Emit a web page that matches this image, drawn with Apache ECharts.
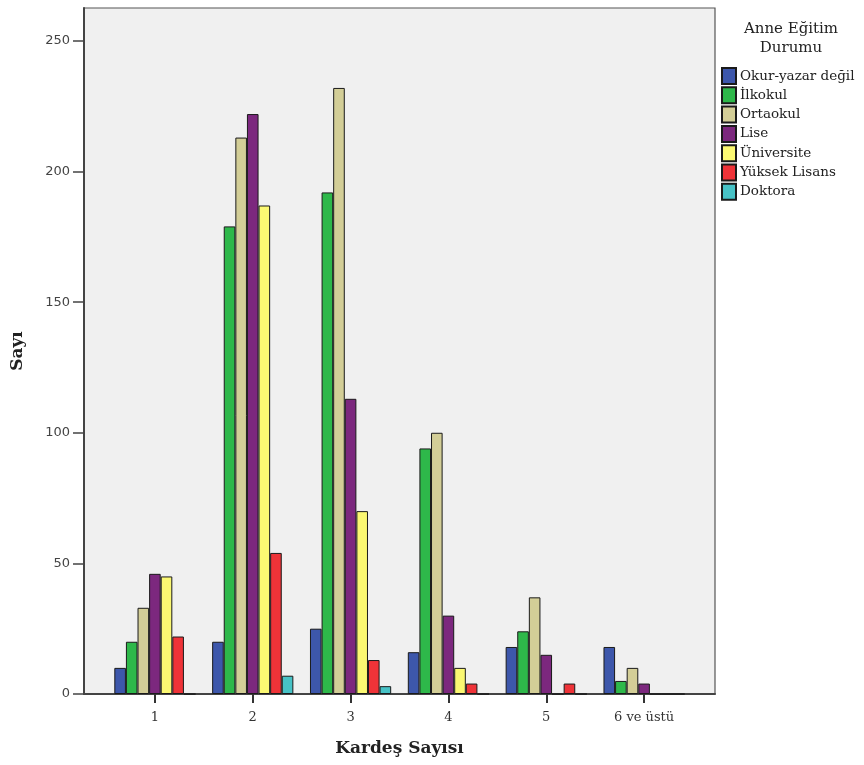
<!DOCTYPE html>
<html><head><meta charset="utf-8">
<script src="https://cdn.jsdelivr.net/npm/echarts@6/dist/echarts.min.js"></script>
<style>html,body{margin:0;padding:0;background:#fff}#c{width:864px;height:765px}</style>
</head><body><div id="c"></div>
<script>
const categories = ['1', '2', '3', '4', '5', '6 ve üstü'];
const okurYazarDegil = [10, 20, 25, 16, 18, 18];
const ilkokul = [20, 179, 192, 94, 24, 5];
const ortaokul = [33, 213, 232, 100, 37, 10];
const lise = [46, 222, 113, 30, 15, 4];
const universite = [45, 187, 70, 10, 0, 0];
const yuksekLisans = [22, 54, 13, 4, 4, 0];
const doktora = [0, 7, 3, 0, 0, 0];
const yTicks = [0, 50, 100, 150, 200, 250];
const seriesNames = ['Okur-yazar değil', 'İlkokul', 'Ortaokul', 'Lise', 'Üniversite', 'Yüksek Lisans', 'Doktora'];
const seriesData = [okurYazarDegil, ilkokul, ortaokul, lise, universite, yuksekLisans, doktora];
const colors = ['#3d57ab', '#2eb84a', '#d3ce97', '#7c287e', '#fbf872', '#ef3338', '#47c2c6'];

const Y_MAX = 262.6;
const serif = '"DejaVu Serif", "Liberation Serif", serif';
const chart = echarts.init(document.getElementById('c'));
chart.setOption({
  animation: false,
  backgroundColor: '#ffffff',
  title: {
    text: 'Anne Eğitim\nDurumu',
    left: 786, top: 15, textAlign: 'center',
    textStyle: { fontFamily: serif, fontSize: 15, fontWeight: 'normal', color: '#222', lineHeight: 19 }
  },
  legend: {
    orient: 'vertical', left: 721, top: 67, padding: 0,
    itemWidth: 14, itemHeight: 16, itemGap: 1.3,
    icon: 'rect',
    textStyle: { fontFamily: serif, fontSize: 13.5, lineHeight: 16, color: '#222', padding: [0, 0, 0, -1] },
    data: seriesNames
  },
  grid: [
    { left: 84, right: 149, top: 8, bottom: 71, show: true, backgroundColor: '#f0f0f0', borderColor: '#555', borderWidth: 1.2, outerBoundsMode: 'none', containLabel: false },
    { left: 106, right: 171, top: 8, bottom: 71, outerBoundsMode: 'none', containLabel: false }
  ],
  xAxis: [
    { type: 'category', gridIndex: 1, data: categories, boundaryGap: true,
      axisLine: { show: false }, axisTick: { show: false }, axisLabel: { show: false } },
    { type: 'category', gridIndex: 0, data: categories, show: true,
      position: 'bottom',
      name: 'Kardeş Sayısı', nameLocation: 'middle', nameGap: 46,
      nameTextStyle: { fontFamily: serif, fontSize: 17, fontWeight: 'bold', color: '#222' },
      axisLine: { show: true, lineStyle: { color: '#444', width: 2 } },
      axisTick: { show: false }, axisLabel: { show: false } },
    { type: 'category', gridIndex: 1, data: categories, position: 'bottom',
      axisLine: { show: false },
      axisTick: { show: true, alignWithLabel: true, length: 9, lineStyle: { color: '#333', width: 2 } },
      axisLabel: { show: true, margin: 17, fontFamily: serif, fontSize: 13, color: '#333' } }
  ],
  yAxis: [
    { type: 'value', gridIndex: 1, min: 0, max: Y_MAX, show: false },
    { type: 'value', gridIndex: 0, min: 0, max: Y_MAX,
      name: 'Sayı', nameLocation: 'middle', nameGap: 58,
      nameTextStyle: { fontFamily: serif, fontSize: 17, fontWeight: 'bold', color: '#222' },
      splitLine: { show: false },
      axisLine: { show: true, lineStyle: { color: '#444', width: 2 } },
      axisTick: { show: true, length: 11, customValues: yTicks, lineStyle: { color: '#444', width: 1.5 } },
      axisLabel: { customValues: yTicks, margin: 14, fontFamily: '"DejaVu Sans", sans-serif', fontSize: 13, color: '#444' } }
  ],
  series: seriesNames.map((n, i) => ({
    name: n, type: 'bar', xAxisIndex: 0, yAxisIndex: 0,
    data: seriesData[i],
    barGap: '0%', barCategoryGap: '17%',
    itemStyle: { color: colors[i], borderColor: '#1a1a1a', borderWidth: 1 }
  }))
});
</script></body></html>
